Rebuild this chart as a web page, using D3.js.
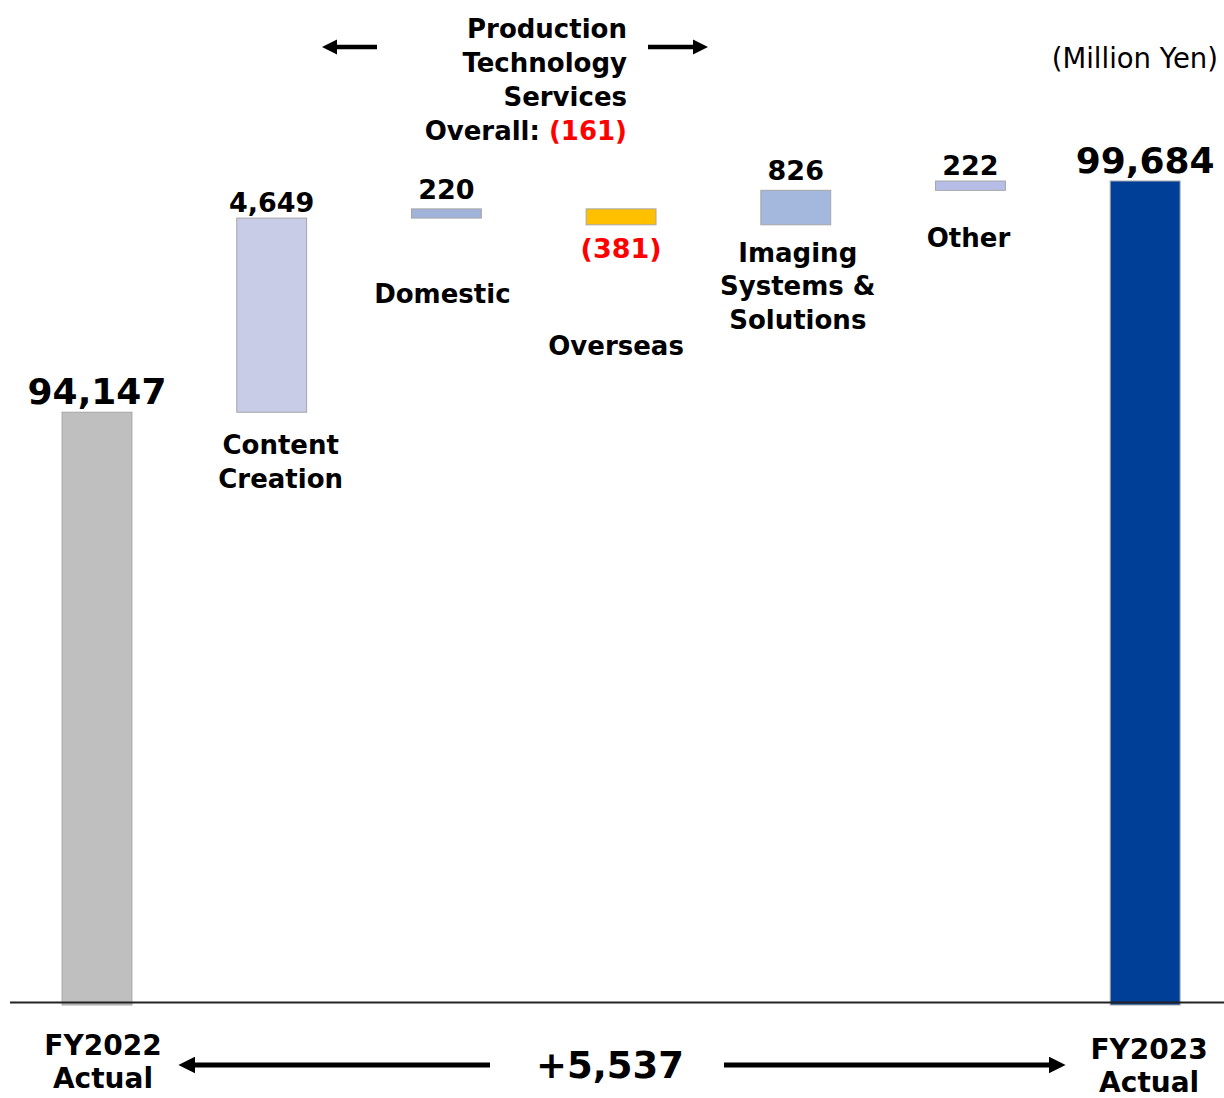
<!DOCTYPE html>
<html><head><meta charset="utf-8">
<script src="https://cdn.jsdelivr.net/npm/d3@7"></script>
<style>body{margin:0;background:#fff}svg{display:block}text{font-family:"DejaVu Sans",Verdana,sans-serif}</style>
</head><body><svg id="c" width="1224" height="1098"></svg>
<script>
const categories = ["FY2022 Actual","Content Creation","Domestic","Overseas","Imaging Systems & Solutions","Other","FY2023 Actual"];
const values = [94147, 4649, 220, -381, 826, 222, 99684];
const kinds = ["total","delta","delta","delta","delta","delta","total"];
const valueLabels = ["94,147","4,649","220","(381)","826","222","99,684"];
const colors = ["#BFBFBF","#C8CCE7","#A0B3D9","#FFC000","#A3B8DC","#B6BEE8","#003F97"];
const groupLabel = ["Production","Technology","Services"];
const groupOverall = "(161)";
const diffLabel = "+5,537";
const unitLabel = "(Million Yen)";

const svg = d3.select("#c");
const x = d3.scaleBand().domain(categories).range([9.65, 1232.5]).paddingInner(0.6).paddingOuter(0.3);
const y = d3.scaleLinear().domain([80000, 100000]).range([1003, 167.8]);

let run = 0;
const bars = categories.map((c,i)=>{
  let lo, hi;
  if (kinds[i]==="total"){ lo = 80000; hi = values[i]; run = values[i]; }
  else { const s = run; run += values[i]; lo = Math.min(s, run); hi = Math.max(s, run); }
  return {c, i, lo, hi, v: values[i]};
});

svg.selectAll("rect.bar").data(bars).join("rect")
  .attr("x", d=>x(d.c)).attr("width", x.bandwidth())
  .attr("y", d=>y(d.hi)).attr("height", d=>kinds[d.i]==="total" ? y(d.lo)-y(d.hi)+2 : y(d.lo)-y(d.hi))
  .attr("fill", (d)=>colors[d.i]).attr("stroke", "#A6A6A6").attr("stroke-width", 1);

svg.append("line").attr("x1",10).attr("x2",1224).attr("y1",y(80000)-0.5).attr("y2",y(80000)-0.5)
  .attr("stroke","#222").attr("stroke-width",2);

const cx = d=>x(d.c)+x.bandwidth()/2;
const vfs = [36,27,27,27,27,27,36];
const vdy = [-8,-6,-10,0,-10,-6,-8];
svg.selectAll("text.val").data(bars).join("text")
  .attr("text-anchor","middle").attr("font-weight","bold")
  .attr("font-size", d=>vfs[d.i]+"px")
  .attr("fill", d=>d.v<0 ? "#FF0000" : "#000")
  .attr("x", d=>cx(d))
  .attr("y", d=> d.v<0 ? y(d.lo)+33 : y(d.hi)+vdy[d.i])
  .text(d=>valueLabels[d.i]);

const catLines = [null, ["Content","Creation"], ["Domestic"], ["Overseas"], ["Imaging","Systems &","Solutions"], ["Other"], null];
const catOff = [0, 42, 85, 130, 37, 57, 0];
const catDx = [0, 9, -4, -5, 2, -2, 0];
bars.forEach(d=>{
  const L = catLines[d.i]; if(!L) return;
  const t = svg.append("text").attr("text-anchor","middle").attr("font-weight","bold").attr("font-size","26px");
  L.forEach((s,k)=>t.append("tspan").attr("x", cx(d)+catDx[d.i]).attr("y", y(d.lo)+catOff[d.i]+k*33.5).text(s));
});

const defs = svg.append("defs");
defs.append("marker").attr("id","ah").attr("viewBox","0 0 10 10").attr("refX",2).attr("refY",5)
  .attr("markerWidth",3.4).attr("markerHeight",3.4).attr("orient","auto-start-reverse").attr("markerUnits","strokeWidth")
  .append("path").attr("d","M0,0 L10,5 L0,10 Z").attr("fill","#000");

function arrow(x1,x2,yy,w){
  svg.append("line").attr("x1",x1).attr("x2",x2).attr("y1",yy).attr("y2",yy)
    .attr("stroke","#000").attr("stroke-width",w).attr("marker-end","url(#ah)");
}
const gt = svg.append("text").attr("text-anchor","end").attr("font-weight","bold").attr("font-size","26px");
groupLabel.forEach((s,k)=>gt.append("tspan").attr("x",627).attr("y",38+k*34).text(s));
const ov = svg.append("text").attr("text-anchor","end").attr("font-weight","bold").attr("font-size","26px").attr("x",627).attr("y",140);
ov.append("tspan").text("Overall: ");
ov.append("tspan").attr("fill","#FF0000").text(groupOverall);
arrow(377, 334, 47, 4.5);
arrow(648, 696, 47, 4.5);

svg.append("text").attr("text-anchor","end").attr("font-size","27.5px").attr("x",1218).attr("y",68).text(unitLabel);

const b0 = svg.append("text").attr("text-anchor","middle").attr("font-weight","bold").attr("font-size","28px");
["FY2022","Actual"].forEach((s,k)=>b0.append("tspan").attr("x",cx(bars[0])+6).attr("y",1055+k*33).text(s));
const b1 = svg.append("text").attr("text-anchor","middle").attr("font-weight","bold").attr("font-size","28px");
["FY2023","Actual"].forEach((s,k)=>b1.append("tspan").attr("x",cx(bars[6])+4).attr("y",1059+k*33).text(s));
svg.append("text").attr("text-anchor","middle").attr("font-weight","bold").attr("font-size","37px")
  .attr("x",610).attr("y",1078).text(diffLabel);
arrow(490, 192, 1065, 5);
arrow(724, 1052, 1065, 5);
</script></body></html>
